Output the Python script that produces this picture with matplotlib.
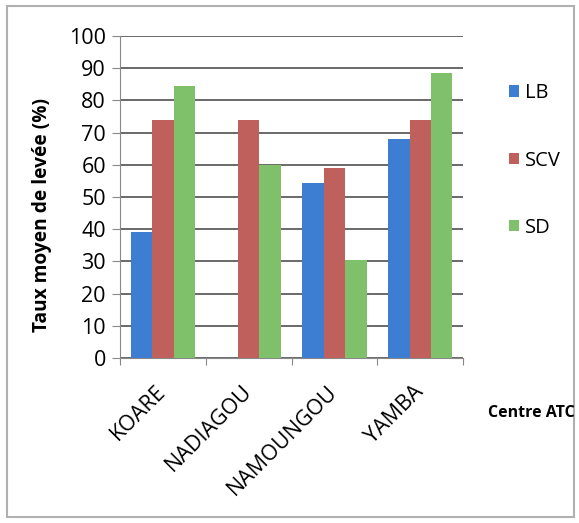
import matplotlib.pyplot as plt
import numpy as np
from matplotlib.patches import Rectangle

plt.rcParams['font.family'] = ['Open Sans', 'DejaVu Sans']

centres = ['KOARE', 'NADIAGOU', 'NAMOUNGOU', 'YAMBA']
lb = [39, 0, 54.5, 68]
scv = [74, 74, 59, 74]
sd = [84.5, 60, 30.5, 88.5]
series = [('LB', lb, '#3D7ED3'), ('SCV', scv, '#C0605D'), ('SD', sd, '#7FC06B')]

fig = plt.figure(figsize=(5.79, 5.23), dpi=100)
ax = fig.add_axes([0.207, 0.3155, 0.593, 0.6155])

x = np.arange(len(centres))
w = 0.25
for i, (name, vals, col) in enumerate(series):
    ax.bar(x + (i - 1) * w, vals, width=w, color=col, label=name, zorder=3)

ax.set_xlim(-0.5, len(centres) - 0.5)
ax.set_ylim(0, 100)
ax.set_yticks(range(0, 101, 10))
ax.yaxis.grid(True, color='#5e5e5e', linewidth=1.3, zorder=0)
ax.set_xticks(np.arange(-0.5, len(centres), 1.0), minor=False)
ax.set_xticklabels([])
ax.set_xticks(x, minor=True)
ax.set_xticklabels(centres, minor=True, rotation=45, ha='right', va='center',
                   rotation_mode='anchor', fontsize=15.5)
ax.tick_params(axis='x', which='minor', length=0, pad=22)
ax.tick_params(axis='x', which='major', length=5, color='#888888')
ax.tick_params(axis='y', length=6, color='#888888', labelsize=15.5, pad=4)

for s in ['top', 'right']:
    ax.spines[s].set_visible(False)
ax.spines['left'].set_color('#888888')
ax.spines['bottom'].set_color('#888888')

ax.set_ylabel('Taux moyen de levée (%)', fontsize=13.8, fontweight='bold')
ax.yaxis.set_label_coords(-0.198, 0.444)
fig.text(0.993, 0.21, 'Centre ATC', fontsize=11.5, fontweight='bold', ha='right', va='center')

leg = ax.legend(loc='upper left', bbox_to_anchor=(1.08, 0.91), frameon=False,
                fontsize=14.5, labelspacing=2.35, handlelength=0.5, handleheight=0.5,
                handletextpad=0.3)

fig.patches.append(Rectangle((0.012, 0.012), 0.98, 0.976, transform=fig.transFigure,
                             fill=False, edgecolor='#b0b0b0', linewidth=1.5))

fig.savefig('out.png', dpi=100)
